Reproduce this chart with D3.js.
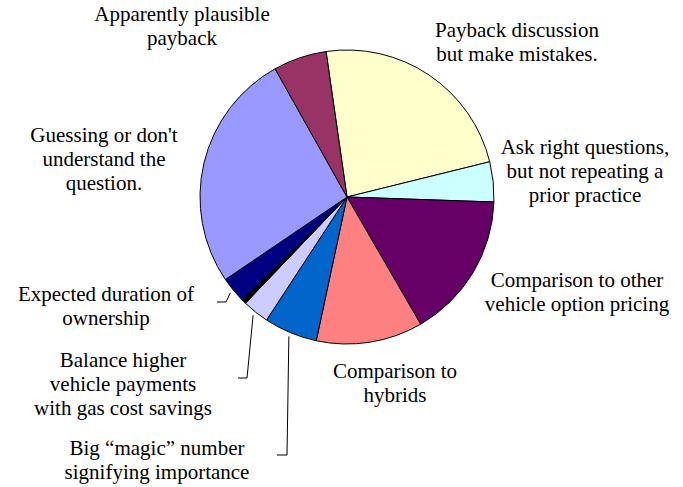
<!DOCTYPE html>
<html>
<head>
<meta charset="utf-8">
<script src="https://cdn.jsdelivr.net/npm/d3@7"></script>
<style>
  body { margin: 0; background: #fff; }
</style>
</head>
<body>
<svg id="chart" width="683" height="487"></svg>
<script>
const width = 683;
const height = 487;
const FONT = "Liberation Serif";

// slices, clockwise from the yellow one
const categories = [
    "Payback discussion but make mistakes.",
    "Ask right questions, but not repeating a prior practice",
    "Comparison to other vehicle option pricing",
    "Comparison to hybrids",
    "Big \u201cmagic\u201d number signifying importance",
    "Balance higher vehicle payments with gas cost savings",
    "(unlabelled)",
    "Expected duration of ownership",
    "Guessing or don't understand the question.",
    "Apparently plausible payback"
];
const values = [16, 3, 11, 8, 4, 2, 0.3, 2, 18, 4];
const colors = ["#ffffcc", "#ccffff", "#660066", "#ff8080", "#0066cc",
                "#ccccff", "#000000", "#000080", "#9999ff", "#993366"];

// label lines for each slice (null = no label)
const labelLines = [
    ["Payback discussion", "but make mistakes."],
    ["Ask right questions,", "but not repeating a", "prior practice"],
    ["Comparison to other", "vehicle option pricing"],
    ["Comparison to", "hybrids"],
    ["Big \u201cmagic\u201d number", "signifying importance"],
    ["Balance higher", "vehicle payments", "with gas cost savings"],
    null,
    ["Expected duration of", "ownership"],
    ["Guessing or don't", "understand the", "question."],
    ["Apparently plausible", "payback"]
];

const cx = 347, cy = 197, r = 147;
const startDeg = -8.2;

// label placement: centre x, first baseline y
const labelPos = [
    [517, 37], [585, 154], [577, 287], [395, 378], [157, 455],
    [123, 367], null, [106, 301], [104, 142], [182, 21]
];
// leader lines: elbow point and label-side end (only for the small slices)
const leaders = {
    4: { elbow: [287, 455], end: [277, 455] },
    5: { elbow: [247, 378], end: [238, 378] },
    7: { elbow: [226, 302], end: [217, 302] }
};

const svg = d3.select("#chart");
const g = svg.append("g").attr("transform", `translate(${cx},${cy})`);

const pie = d3.pie()
    .sort(null)
    .value(d => d)
    .startAngle(startDeg * Math.PI / 180)
    .endAngle((startDeg + 360) * Math.PI / 180);

const arcs = pie(values);
const arc = d3.arc().innerRadius(0).outerRadius(r);

g.selectAll("path.slice")
    .data(arcs)
    .enter()
    .append("path")
    .attr("class", "slice")
    .attr("d", arc)
    .attr("fill", (d, i) => colors[i])
    .attr("stroke", "#000")
    .attr("stroke-width", 1)
    .attr("stroke-linejoin", "round");

// leader lines
const leaderArc = d3.arc().innerRadius(r + 4).outerRadius(r + 4);
Object.keys(leaders).forEach(k => {
    const i = +k;
    const [px, py] = leaderArc.centroid(arcs[i]);
    const L = leaders[i];
    svg.append("polyline")
        .attr("points", [L.end, L.elbow, [cx + px, cy + py]].map(p => p.join(",")).join(" "))
        .attr("fill", "none")
        .attr("stroke", "#000")
        .attr("stroke-width", 1);
});

// labels
labelLines.forEach((lines, i) => {
    if (!lines) return;
    const [x, y] = labelPos[i];
    const t = svg.append("text")
        .style("font-family", FONT)
        .style("font-size", "21px")
        .attr("fill", "#000")
        .attr("text-anchor", "middle")
        .attr("x", x)
        .attr("y", y);
    lines.forEach((s, j) => {
        t.append("tspan")
            .attr("x", x)
            .attr("dy", j === 0 ? 0 : 24)
            .text(s);
    });
});
</script>
</body>
</html>
